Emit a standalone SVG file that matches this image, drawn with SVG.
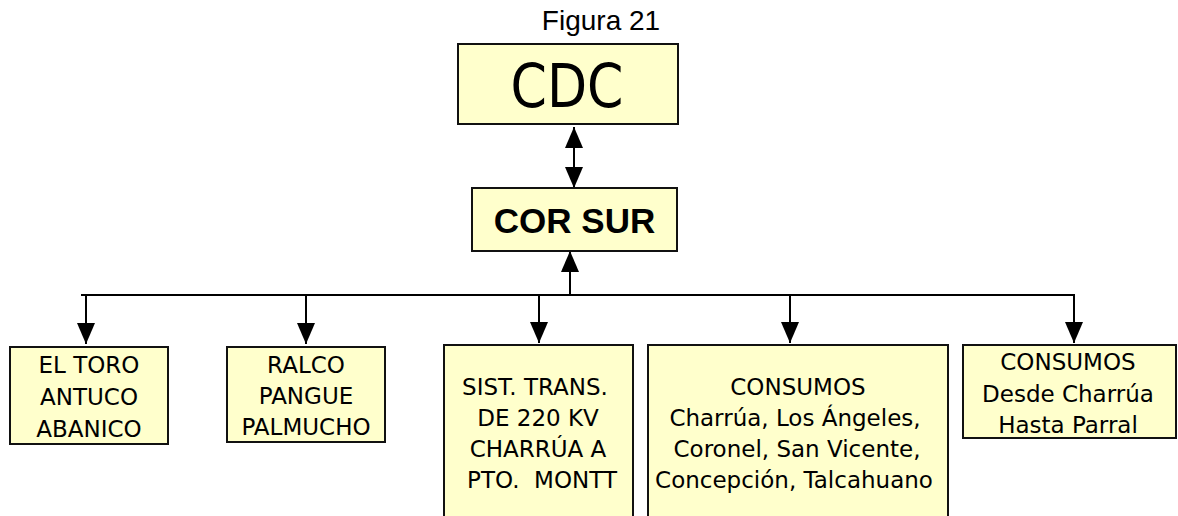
<svg xmlns="http://www.w3.org/2000/svg" width="1178" height="516" viewBox="0 0 1178 516">
<style>
.box{fill:#FFFFCC;stroke:#111;stroke-width:2}
.t{font-family:"DejaVu Sans",Verdana,sans-serif;font-size:23px;fill:#000;text-anchor:middle}
.ln{stroke:#000;stroke-width:2;fill:none}
</style>
<defs>
<marker id="ah" viewBox="0 0 21 18" refX="21" refY="9" markerWidth="21" markerHeight="18" markerUnits="userSpaceOnUse" orient="auto">
<path d="M0,0 L21,9 L0,18 Z" fill="#000"/>
</marker>
<marker id="ahs" viewBox="0 0 21 18" refX="21" refY="9" markerWidth="21" markerHeight="18" markerUnits="userSpaceOnUse" orient="auto-start-reverse">
<path d="M0,0 L21,9 L0,18 Z" fill="#000"/>
</marker>
</defs>
<rect width="1178" height="516" fill="#fff"/>
<text x="601" y="30" font-family="Liberation Sans,Arial,sans-serif" font-size="28" text-anchor="middle">Figura 21</text>
<g id="connectors">
<line class="ln" x1="574" y1="127" x2="574" y2="188" marker-start="url(#ahs)" marker-end="url(#ah)"/>
<line class="ln" x1="570" y1="295" x2="570" y2="251" marker-end="url(#ah)"/>
<line class="ln" x1="81" y1="295" x2="1075" y2="295"/>
<line class="ln" x1="86" y1="295" x2="86" y2="344" marker-end="url(#ah)"/>
<line class="ln" x1="306" y1="295" x2="306" y2="344" marker-end="url(#ah)"/>
<line class="ln" x1="539" y1="295" x2="539" y2="343" marker-end="url(#ah)"/>
<line class="ln" x1="790" y1="295" x2="790" y2="343" marker-end="url(#ah)"/>
<line class="ln" x1="1074" y1="295" x2="1074" y2="343" marker-end="url(#ah)"/>
</g>
<g id="cdc">
<rect class="box" x="458" y="44" width="220" height="80"/>
<text x="567" y="107" font-family="DejaVu Sans,Verdana,sans-serif" font-size="60" text-anchor="middle" textLength="113" lengthAdjust="spacingAndGlyphs">CDC</text>
</g>
<g id="corsur">
<rect class="box" x="472" y="188" width="205" height="63"/>
<text x="574.5" y="233" font-family="Liberation Sans,Arial,sans-serif" font-size="35" font-weight="bold" text-anchor="middle">COR SUR</text>
</g>
<g id="n1">
<rect class="box" x="10" y="347" width="158" height="97"/>
<text class="t" x="89" y="373">EL TORO</text>
<text class="t" x="89" y="405">ANTUCO</text>
<text class="t" x="89" y="437">ABANICO</text>
</g>
<g id="n2">
<rect class="box" x="227" y="347" width="158" height="95"/>
<text class="t" x="306" y="373">RALCO</text>
<text class="t" x="306" y="404">PANGUE</text>
<text class="t" x="306" y="435">PALMUCHO</text>
</g>
<g id="n3">
<rect class="box" x="444" y="345" width="189" height="190"/>
<text class="t" x="535" y="395">SIST. TRANS.</text>
<text class="t" x="538" y="426">DE 220 KV</text>
<text class="t" x="538" y="457">CHARRÚA A</text>
<text class="t" x="542" y="488" xml:space="preserve">PTO.  MONTT</text>
</g>
<g id="n4">
<rect class="box" x="648" y="345" width="300" height="190"/>
<text class="t" x="798" y="395">CONSUMOS</text>
<text class="t" x="795" y="426">Charrúa, Los Ángeles,</text>
<text class="t" x="797" y="457">Coronel, San Vicente,</text>
<text class="t" x="794" y="488">Concepción, Talcahuano</text>
</g>
<g id="n5">
<rect class="box" x="963" y="345" width="213" height="93"/>
<text class="t" x="1068" y="370">CONSUMOS</text>
<text class="t" x="1068" y="402">Desde Charrúa</text>
<text class="t" x="1068" y="433">Hasta Parral</text>
</g>
</svg>
